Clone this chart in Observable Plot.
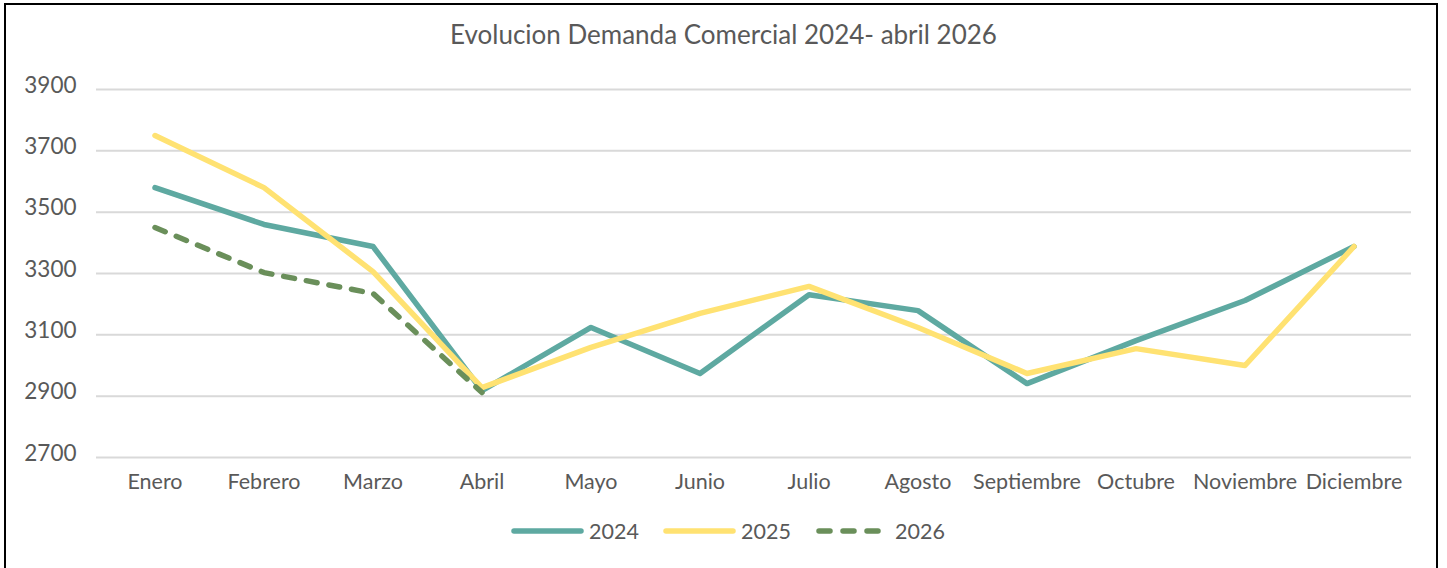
<!DOCTYPE html>
<html>
<head>
<meta charset="utf-8">
<script src="https://cdn.jsdelivr.net/npm/d3@7"></script>
<script src="https://cdn.jsdelivr.net/npm/@observablehq/plot@0.6"></script>
<style>
  html, body { margin: 0; padding: 0; background: #fff; }
  body { font-family: Lato, "Open Sans", sans-serif; color: #595959; }
  #wrap { position: relative; width: 1447px; height: 568px; overflow: hidden; }
  #frame { position: absolute; left: 4px; top: 3px; width: 1434px; height: 575px; border: 2px solid #000; box-sizing: border-box; }
  #title { position: absolute; left: 0; width: 1447px; top: 18px; text-align: center; font-size: 26px; color: #595959; }
  #chart { position: absolute; left: 0; top: 60px; }
  #legend { position: absolute; left: 0; top: 517px; width: 1447px; height: 30px; }
  .item { position: absolute; top: 0; font-size: 21.5px; line-height: 28px; }
  .item svg { position: absolute; top: 0; }
</style>
</head>
<body>
<div id="wrap">
  <div id="frame"></div>
  <div id="title">Evolucion Demanda Comercial 2024- abril 2026</div>
  <div id="chart"></div>
  <div id="legend"></div>
</div>
<script>
const months = ["Enero","Febrero","Marzo","Abril","Mayo","Junio","Julio","Agosto","Septiembre","Octubre","Noviembre","Diciembre"];
const v2024 = [3580, 3460, 3388, 2918, 3124, 2974, 3231, 3179, 2941, 3081, 3212, 3388];
const v2025 = [3750, 3580, 3306, 2928, 3059, 3170, 3258, 3124, 2974, 3055, 3000, 3388];
const v2026 = [3450, 3303, 3235, 2912];
const yTicks = [2700, 2900, 3100, 3300, 3500, 3700, 3900];
const seriesNames = ["2024", "2025", "2026"];
const colors = {"2024": "#5ea9a1", "2025": "#ffe272", "2026": "#6a8f5a"};

const rows = [];
[v2024, v2025, v2026].forEach((arr, si) => {
  arr.forEach((v, i) => rows.push({series: seriesNames[si], month: months[i], value: v}));
});

const chart = Plot.plot({
  width: 1447,
  height: 440,
  marginLeft: 96,
  marginRight: 36,
  marginTop: 29,
  marginBottom: 43,
  style: {fontFamily: "Lato, 'Open Sans', sans-serif", fontSize: "21.5px", color: "#595959", background: "transparent", overflow: "visible"},
  x: {type: "band", domain: months, padding: 0, label: null},
  y: {domain: [2700, 3900], label: null},
  marks: [
    Plot.ruleY(yTicks, {stroke: "#d9d9d9", strokeWidth: 2}),
    Plot.axisX({tickSize: 0, tickPadding: 16, fontSize: 21.5}),
    Plot.axisY(yTicks, {tickSize: 0, tickPadding: 20, tickFormat: d => String(d), fontSize: 22.5, dy: -4}),
    Plot.line(rows.filter(d => d.series === "2024"), {x: "month", y: "value", stroke: colors["2024"], strokeWidth: 5.5, strokeLinejoin: "round", strokeLinecap: "round"}),
    Plot.line(rows.filter(d => d.series === "2025"), {x: "month", y: "value", stroke: colors["2025"], strokeWidth: 5.5, strokeLinejoin: "round", strokeLinecap: "round"}),
    Plot.line(rows.filter(d => d.series === "2026"), {x: "month", y: "value", stroke: colors["2026"], strokeWidth: 5.5, strokeLinejoin: "round", strokeLinecap: "round", strokeDasharray: "11,12"})
  ]
});
document.getElementById("chart").appendChild(chart);

// Legend
const legend = document.getElementById("legend");
const legendItems = [
  {name: "2024", left: 511, dash: null},
  {name: "2025", left: 663, dash: null},
  {name: "2026", left: 816, dash: "11,13"}
];
legendItems.forEach(it => {
  const div = document.createElement("div");
  div.className = "item";
  div.style.left = it.left + "px";
  div.style.width = "140px";
  const svg = d3.create("svg").attr("width", 80).attr("height", 28).style("left", "0px");
  const ln = svg.append("line").attr("x1", 3).attr("x2", 70).attr("y1", 14).attr("y2", 14)
    .attr("stroke", colors[it.name]).attr("stroke-width", 5.5).attr("stroke-linecap", "round");
  if (it.dash) { ln.attr("x2", 66).attr("stroke-dasharray", it.dash); }
  div.appendChild(svg.node());
  const span = document.createElement("span");
  span.textContent = it.name;
  span.style.position = "absolute";
  span.style.left = (it.dash ? 79 : 78) + "px";
  div.appendChild(span);
  legend.appendChild(div);
});
</script>
</body>
</html>
